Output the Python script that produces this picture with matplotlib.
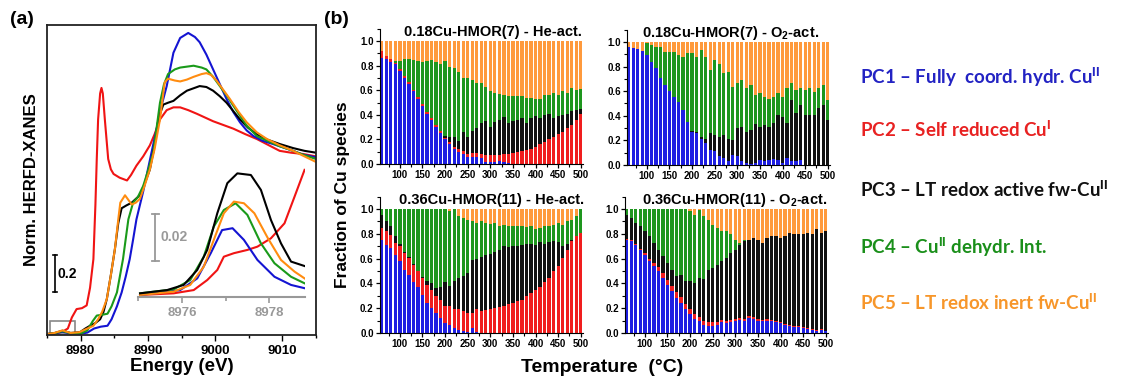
import numpy as np
import matplotlib
matplotlib.use("Agg")
import matplotlib.pyplot as plt
from matplotlib.patches import Rectangle
from matplotlib.ticker import MultipleLocator

plt.rcParams['font.family'] = ['Liberation Sans', 'DejaVu Sans']
plt.rcParams['font.weight'] = 'bold'
plt.rcParams['mathtext.fontset'] = 'custom'
plt.rcParams['mathtext.rm'] = 'Liberation Sans:bold'
plt.rcParams['mathtext.bf'] = 'Liberation Sans:bold'
plt.rcParams['mathtext.it'] = 'Liberation Sans:bold'

# ---------------- (a) HERFD-XANES spectra ----------------
blue_E = [8975.0, 8976.0, 8977.3, 8978.5, 8980.0, 8981.0, 8982.0, 8983.0, 8984.0, 8984.6, 8985.4,
          8986.1, 8986.7, 8987.3, 8987.8, 8988.3, 8989.3, 8990.3, 8991.3, 8992.0, 8992.8, 8993.8,
          8994.8, 8996.0, 8997.0, 8997.7, 8998.7, 8999.7, 9000.7, 9001.7, 9002.7, 9003.7, 9004.7,
          9005.7, 9007.0, 9008.6, 9010.0, 9011.6, 9013.0, 9015.0]
blue_I = [0.0, 0.003, 0.012, 0.004, 0.002, 0.008, 0.03, 0.04, 0.045, 0.08, 0.15,
          0.225, 0.31, 0.405, 0.51, 0.62, 0.77, 0.94, 1.11, 1.23, 1.34, 1.52,
          1.60, 1.627, 1.605, 1.577, 1.51, 1.43, 1.35, 1.27, 1.20, 1.144, 1.10,
          1.07, 1.045, 1.027, 1.01, 0.99, 0.97, 0.955]

green_E = [8975.0, 8976.0, 8977.3, 8978.5, 8980.0, 8981.0, 8981.8, 8982.4, 8983.3, 8984.0, 8984.6,
           8985.4, 8986.3, 8987.1, 8987.8, 8988.5, 8989.3, 8990.0, 8990.8, 8991.8, 8992.4, 8993.0,
           8994.0, 8994.8, 8996.8, 8998.0, 8998.7, 8999.7, 9000.7, 9001.7, 9002.7, 9004.7, 9006.2,
           9007.7, 9009.6, 9011.6, 9013.0, 9015.0]
green_I = [0.0, 0.004, 0.016, 0.005, 0.003, 0.02, 0.07, 0.10, 0.105, 0.11, 0.15,
           0.225, 0.405, 0.62, 0.71, 0.74, 0.80, 0.88, 0.98, 1.25, 1.35, 1.405,
           1.43, 1.44, 1.45, 1.44, 1.43, 1.39, 1.34, 1.29, 1.234, 1.126, 1.07,
           1.045, 1.015, 0.99, 0.97, 0.946]

orange_E = [8975.0, 8976.0, 8977.3, 8978.5, 8979.8, 8980.7, 8981.9, 8982.6, 8983.2, 8983.9, 8984.5,
            8985.1, 8985.6, 8985.9, 8986.6, 8987.0, 8987.6, 8988.2, 8988.8, 8989.5, 8990.3, 8991.0,
            8991.8, 8992.5, 8993.0, 8994.0, 8994.8, 8995.8, 8996.8, 8998.0, 8998.7, 8999.4, 9000.2,
            9001.2, 9002.2, 9003.5, 9004.7, 9006.2, 9007.7, 9009.6, 9011.6, 9013.0, 9015.0]
orange_I = [0.0, 0.005, 0.02, 0.006, 0.01, 0.025, 0.045, 0.08, 0.12, 0.19, 0.32,
            0.46, 0.62, 0.71, 0.75, 0.73, 0.70, 0.71, 0.73, 0.80, 0.89, 1.00,
            1.16, 1.36, 1.38, 1.37, 1.365, 1.375, 1.39, 1.405, 1.41, 1.40, 1.37,
            1.32, 1.27, 1.20, 1.144, 1.09, 1.054, 1.02, 0.99, 0.965, 0.93]

black_E = [8975.0, 8976.0, 8977.3, 8978.5, 8979.9, 8980.7, 8981.4, 8982.2, 8982.9, 8983.4, 8983.9,
           8984.5, 8985.1, 8985.6, 8986.1, 8986.8, 8987.6, 8988.2, 8988.8, 8989.5, 8990.3, 8991.0,
           8991.6, 8992.3, 8993.0, 8993.8, 8994.8, 8995.8, 8997.7, 8998.7, 8999.7, 9000.7, 9001.7,
           9002.7, 9003.7, 9004.9, 9006.2, 9007.8, 9009.6, 9011.6, 9013.3, 9015.0]
black_I = [0.0, 0.004, 0.018, 0.006, 0.01, 0.03, 0.045, 0.06, 0.08, 0.12, 0.19,
           0.32, 0.46, 0.60, 0.68, 0.695, 0.71, 0.73, 0.75, 0.81, 0.89, 1.02,
           1.17, 1.24, 1.25, 1.26, 1.29, 1.315, 1.34, 1.335, 1.315, 1.285, 1.25,
           1.205, 1.16, 1.115, 1.08, 1.05, 1.027, 1.005, 0.99, 0.98]

red_E = [8975.0, 8976.5, 8977.4, 8978.1, 8978.7, 8979.4, 8980.2, 8980.9, 8981.4, 8981.9, 8982.2,
         8982.4, 8982.6, 8982.9, 8983.1, 8983.3, 8983.6, 8984.1, 8984.5, 8984.9, 8985.8, 8986.9,
         8987.5, 8988.3, 8989.3, 8990.3, 8991.0, 8991.8, 8992.8, 8993.8, 8994.8, 8996.0, 8997.3,
         8998.5, 8999.7, 9001.2, 9002.7, 9004.5, 9006.2, 9008.0, 9009.6, 9011.3, 9013.1, 9015.0]
red_I = [0.0, 0.005, 0.015, 0.03, 0.09, 0.135, 0.14, 0.155, 0.25, 0.405, 0.70,
         0.946, 1.16, 1.30, 1.33, 1.30, 1.16, 0.946, 0.89, 0.865, 0.845, 0.83,
         0.86, 0.91, 0.96, 1.02, 1.08, 1.16, 1.21, 1.225, 1.225, 1.21, 1.19,
         1.17, 1.15, 1.13, 1.11, 1.08, 1.054, 1.02, 0.99, 0.98, 0.973, 0.96]

# inset: pre-edge region
in_black_E = [8975.04, 8975.66, 8976.04, 8976.35, 8976.58, 8976.81, 8977.04, 8977.27, 8977.58,
              8977.81, 8978.04, 8978.27, 8978.5, 8978.81]
in_black_I = [0.0017, 0.0031, 0.0053, 0.0117, 0.0203, 0.036, 0.0489, 0.0531, 0.0524,
              0.046, 0.0331, 0.0231, 0.0153, 0.0134]
in_orange_E = [8975.04, 8975.81, 8976.19, 8976.5, 8976.73, 8976.96, 8977.19, 8977.42, 8977.66,
               8977.97, 8978.27, 8978.58, 8978.81]
in_orange_I = [0.001, 0.0024, 0.0053, 0.0131, 0.0246, 0.036, 0.041, 0.0403, 0.036,
               0.0253, 0.016, 0.011, 0.0081]
in_green_E = [8975.04, 8975.81, 8976.19, 8976.5, 8976.73, 8976.96, 8977.23, 8977.5, 8977.81,
              8978.12, 8978.5, 8978.81]
in_green_I = [0.0017, 0.0034, 0.0074, 0.0174, 0.0303, 0.0374, 0.0403, 0.0353, 0.0231,
              0.0146, 0.0088, 0.006]
in_blue_E = [8975.04, 8975.96, 8976.35, 8976.66, 8976.92, 8977.16, 8977.42, 8977.73, 8978.12,
             8978.5, 8978.81]
in_blue_I = [0.001, 0.0031, 0.0081, 0.0189, 0.0288, 0.0296, 0.0246, 0.016, 0.0088,
             0.0053, 0.0039]
in_red_E = [8975.04, 8975.81, 8976.27, 8976.58, 8976.81, 8976.96, 8977.19, 8977.5, 8977.73,
            8978.04, 8978.35, 8978.58, 8978.81]
in_red_I = [0.001, 0.0017, 0.0031, 0.0074, 0.0117, 0.0174, 0.0189, 0.0203, 0.0217,
            0.0253, 0.0317, 0.0431, 0.0546]

# ---------------- (b) fractions (upper edge of each PC band) ----------------
temps = list(range(60, 501, 10))

he18_blue = [0.86, 0.85, 0.83, 0.81, 0.76, 0.70, 0.65, 0.59, 0.53, 0.47, 0.41, 0.355, 0.30, 0.25, 0.20,
             0.165, 0.12, 0.10, 0.085, 0.055, 0.06, 0.06, 0.045, 0.02, 0.02, 0.02, 0.025, 0.015, 0.005,
             0, 0, 0, 0, 0, 0, 0, 0, 0, 0, 0, 0, 0, 0, 0, 0]
he18_red = [0.92, 0.88, 0.85, 0.825, 0.775, 0.715, 0.665, 0.605, 0.545, 0.485, 0.425, 0.37, 0.315, 0.265,
            0.215, 0.18, 0.14, 0.12, 0.105, 0.08, 0.09, 0.09, 0.085, 0.07, 0.075, 0.07, 0.075, 0.08,
            0.085, 0.09, 0.10, 0.105, 0.11, 0.125, 0.14, 0.16, 0.18, 0.20, 0.22, 0.24, 0.26, 0.29,
            0.32, 0.36, 0.41]
he18_black = [0.92, 0.88, 0.85, 0.825, 0.775, 0.715, 0.665, 0.605, 0.545, 0.485, 0.425, 0.37, 0.315,
              0.265, 0.23, 0.22, 0.22, 0.19, 0.26, 0.22, 0.27, 0.29, 0.33, 0.35, 0.30, 0.34, 0.36,
              0.38, 0.33, 0.35, 0.36, 0.37, 0.33, 0.37, 0.39, 0.37, 0.40, 0.41, 0.37, 0.39, 0.40,
              0.41, 0.43, 0.44, 0.45]
he18_green = [0.92, 0.88, 0.85, 0.84, 0.84, 0.85, 0.85, 0.845, 0.84, 0.83, 0.84, 0.845, 0.83, 0.81,
              0.84, 0.79, 0.78, 0.75, 0.70, 0.70, 0.68, 0.655, 0.655, 0.63, 0.59, 0.58, 0.57, 0.56,
              0.55, 0.555, 0.55, 0.555, 0.535, 0.54, 0.525, 0.525, 0.56, 0.56, 0.575, 0.56, 0.59,
              0.575, 0.615, 0.60, 0.61]

o18_blue = [0.96, 0.95, 0.94, 0.93, 0.895, 0.84, 0.785, 0.705, 0.65, 0.60, 0.555, 0.515, 0.45, 0.35,
            0.27, 0.26, 0.215, 0.175, 0.12, 0.11, 0.07, 0.06, 0.03, 0.08, 0.07, 0.03, 0.015, 0.005,
            0.015, 0.04, 0.03, 0.04, 0.05, 0.04, 0.015, 0.06, 0.03, 0.035, 0.04, 0, 0, 0, 0, 0, 0]
o18_red = o18_blue
o18_black = [0.96, 0.95, 0.94, 0.93, 0.895, 0.84, 0.785, 0.705, 0.65, 0.60, 0.555, 0.515, 0.45, 0.35,
             0.28, 0.27, 0.23, 0.215, 0.26, 0.245, 0.23, 0.245, 0.215, 0.20, 0.30, 0.31, 0.27, 0.285,
             0.33, 0.31, 0.325, 0.31, 0.34, 0.405, 0.39, 0.34, 0.53, 0.42, 0.49, 0.405, 0.41, 0.405,
             0.46, 0.49, 0.365]
o18_green = [0.96, 0.95, 0.94, 0.93, 0.99, 0.975, 0.96, 0.96, 0.92, 0.92, 0.92, 0.895, 0.88, 0.91,
             0.91, 0.88, 0.935, 0.88, 0.77, 0.855, 0.825, 0.745, 0.76, 0.635, 0.665, 0.69, 0.625,
             0.65, 0.57, 0.585, 0.555, 0.54, 0.555, 0.585, 0.555, 0.625, 0.665, 0.61, 0.625, 0.61,
             0.625, 0.595, 0.625, 0.65, 0.53]

he36_blue = [0.75, 0.71, 0.685, 0.63, 0.58, 0.51, 0.47, 0.415, 0.375, 0.31, 0.24, 0.20, 0.16, 0.12,
             0.08, 0.067, 0.04, 0.027, 0.013, 0.01, 0.04, 0.005, 0, 0, 0, 0, 0, 0, 0, 0, 0, 0, 0, 0,
             0, 0, 0, 0, 0, 0, 0, 0, 0, 0, 0]
he36_red = [0.845, 0.82, 0.79, 0.725, 0.70, 0.645, 0.605, 0.55, 0.50, 0.445, 0.39, 0.35, 0.295, 0.27,
            0.215, 0.215, 0.195, 0.19, 0.175, 0.16, 0.16, 0.19, 0.175, 0.185, 0.195, 0.20, 0.21,
            0.215, 0.23, 0.24, 0.255, 0.27, 0.295, 0.32, 0.345, 0.375, 0.415, 0.445, 0.50, 0.54,
            0.605, 0.67, 0.74, 0.78, 0.805]
he36_black = [0.95, 0.90, 0.86, 0.78, 0.72, 0.655, 0.61, 0.555, 0.50, 0.45, 0.42, 0.40, 0.36, 0.37,
              0.41, 0.38, 0.42, 0.44, 0.46, 0.48, 0.59, 0.60, 0.61, 0.63, 0.64, 0.65, 0.67, 0.70,
              0.69, 0.70, 0.70, 0.71, 0.72, 0.72, 0.71, 0.73, 0.72, 0.73, 0.74, 0.73, 0.70, 0.72,
              0.75, 0.78, 0.805]
he36_green = [1.0, 1.0, 1.0, 1.0, 1.0, 1.0, 1.0, 1.0, 1.0, 1.0, 1.0, 1.0, 1.0, 1.0, 1.0, 0.985, 1.0,
              0.94, 0.925, 0.915, 0.90, 0.887, 0.90, 0.89, 0.88, 0.887, 0.86, 0.875, 0.86, 0.86,
              0.86, 0.865, 0.855, 0.86, 0.835, 0.85, 0.86, 0.865, 0.875, 0.887, 0.875, 0.90, 0.915,
              0.94, 1.0]

o36_blue = [0.75, 0.74, 0.71, 0.67, 0.63, 0.58, 0.54, 0.50, 0.445, 0.39, 0.335, 0.28, 0.24, 0.19,
            0.15, 0.11, 0.095, 0.067, 0.054, 0.06, 0.067, 0.086, 0.08, 0.086, 0.095, 0.108, 0.095,
            0.12, 0.113, 0.10, 0.095, 0.10, 0.095, 0.086, 0.08, 0.067, 0.06, 0.048, 0.048, 0.04,
            0.032, 0.027, 0.02, 0.027, 0.013]
o36_red = [0.76, 0.75, 0.72, 0.68, 0.645, 0.60, 0.565, 0.53, 0.48, 0.43, 0.38, 0.33, 0.29, 0.235,
           0.195, 0.155, 0.13, 0.10, 0.085, 0.085, 0.09, 0.105, 0.10, 0.105, 0.11, 0.125, 0.115,
           0.135, 0.13, 0.115, 0.105, 0.11, 0.105, 0.095, 0.09, 0.075, 0.068, 0.055, 0.055, 0.045,
           0.037, 0.032, 0.024, 0.03, 0.015]
o36_black = [0.955, 0.93, 0.89, 0.86, 0.82, 0.78, 0.725, 0.67, 0.62, 0.565, 0.51, 0.457, 0.47, 0.417,
             0.417, 0.40, 0.445, 0.435, 0.51, 0.525, 0.55, 0.58, 0.605, 0.645, 0.67, 0.71, 0.74,
             0.75, 0.765, 0.75, 0.725, 0.765, 0.78, 0.78, 0.765, 0.78, 0.805, 0.795, 0.795, 0.80,
             0.805, 0.795, 0.835, 0.81, 0.82]
o36_green = [1.0, 1.0, 1.0, 1.0, 1.0, 1.0, 1.0, 1.0, 1.0, 1.0, 1.0, 1.0, 1.0, 1.0, 0.98, 0.955, 0.995,
             0.94, 0.915, 0.875, 0.845, 0.82, 0.82, 0.795, 0.75, 0.725, 0.75, 0.75, 0.765, 0.75,
             0.725, 0.765, 0.78, 0.78, 0.765, 0.78, 0.805, 0.795, 0.795, 0.80, 0.805, 0.795, 0.835,
             0.81, 0.82]

legend_labels = [r"PC1 – Fully  coord. hydr. Cu$^{\mathrm{II}}$",
                 r"PC2 – Self reduced Cu$^{\mathrm{I}}$",
                 r"PC3 – LT redox active fw-Cu$^{\mathrm{II}}$",
                 r"PC4 – Cu$^{\mathrm{II}}$ dehydr. Int.",
                 r"PC5 – LT redox inert fw-Cu$^{\mathrm{II}}$"]

C_BLUE, C_RED, C_BLACK, C_GREEN, C_ORANGE = '#1e1ee2', '#f01e1e', '#111111', '#1e961e', '#ff9a3c'
L_BLUE, L_RED, L_GREEN, L_ORANGE = '#1414d2', '#f01414', '#1a9a1a', '#ff8c10'
T_COLORS = ['#2323c3', '#e82222', '#111111', '#1a8f1a', '#f7962a']

fig = plt.figure(figsize=(11.33, 3.81), dpi=100)

# ---------- panel (a) ----------
ax = fig.add_axes([47 / 1133, 1 - 335 / 381, 269 / 1133, 310 / 381])
for E, I, c in [(red_E, red_I, L_RED), (blue_E, blue_I, L_BLUE), (black_E, black_I, 'black'),
                (green_E, green_I, L_GREEN), (orange_E, orange_I, L_ORANGE)]:
    ax.plot(E, I, color=c, lw=1.5)
ax.set_xlim(8975, 9015)
ax.set_ylim(-0.005, 1.67)
ax.set_yticks([])
ax.xaxis.set_major_locator(MultipleLocator(10))
ax.xaxis.set_minor_locator(MultipleLocator(5))
ax.tick_params(axis='x', which='major', length=4, width=1, labelsize=9.5, pad=3)
ax.tick_params(axis='x', which='minor', length=2.5, width=1)
for s in ax.spines.values():
    s.set_linewidth(1.3)
    s.set_color('#222222')
ax.set_xlabel("Energy (eV)", fontsize=13.5, fontweight='bold', labelpad=1)
ax.set_ylabel("Norm. HERFD-XANES", fontsize=12, fontweight='bold', labelpad=6)
ax.add_patch(Rectangle((8975.4, 0.0), 3.8, 0.07, fill=False, edgecolor='#888888', lw=1.2))
# 0.2 scale bar
ax.plot([8976.2, 8976.2], [0.227, 0.427], color='black', lw=1.2)
ax.plot([8975.9, 8976.5], [0.227, 0.227], color='black', lw=1.2)
ax.plot([8975.9, 8976.5], [0.427, 0.427], color='black', lw=1.2)
ax.text(8976.5, 0.327, "0.2", fontsize=10, fontweight='bold', va='center', ha='left')

axi = fig.add_axes([138.3 / 1133, 1 - 297.3 / 381, 166.7 / 1133, 130.7 / 381])
axi.set_facecolor('none')
for E, I, c in [(in_red_E, in_red_I, L_RED), (in_blue_E, in_blue_I, L_BLUE),
                (in_green_E, in_green_I, L_GREEN), (in_orange_E, in_orange_I, L_ORANGE),
                (in_black_E, in_black_I, 'black')]:
    axi.plot(E, I, color=c, lw=1.5)
axi.set_xlim(8975, 8978.82)
axi.set_ylim(0, 0.056)
axi.set_yticks([])
for k in ['left', 'top', 'right']:
    axi.spines[k].set_visible(False)
axi.spines['bottom'].set_color('#999999')
axi.spines['bottom'].set_linewidth(1.5)
axi.xaxis.set_major_locator(MultipleLocator(2))
axi.xaxis.set_minor_locator(MultipleLocator(1))
axi.tick_params(axis='x', which='both', colors='#999999', labelcolor='#999999', labelsize=9.5, width=1.2)
axi.tick_params(axis='x', which='major', length=4, pad=3)
axi.tick_params(axis='x', which='minor', length=3)
axi.plot([8975.39, 8975.39], [0.0155, 0.0356], color='#999999', lw=1.3, clip_on=False)
axi.plot([8975.31, 8975.47], [0.0155, 0.0155], color='#999999', lw=1.3, clip_on=False)
axi.plot([8975.31, 8975.47], [0.0356, 0.0356], color='#999999', lw=1.3, clip_on=False)
axi.text(8975.5, 0.0258, "0.02", fontsize=10, color='#999999', fontweight='bold', va='center')

# ---------- panel (b) ----------
def draw_panel(rect, blue, red, black, green, title, tx):
    a = fig.add_axes(rect)
    tops = [np.array(blue), np.array(red), np.array(black), np.array(green), np.ones(len(temps))]
    colors = [C_BLUE, C_RED, C_BLACK, C_GREEN, C_ORANGE]
    prev = np.zeros(len(temps))
    for top, c in zip(tops, colors):
        h = np.clip(top - prev, 0, None)
        a.bar(temps, h, bottom=prev, width=7.2, color=c, linewidth=0)
        prev = np.maximum(prev, top)
    a.set_xlim(56, 505)
    a.set_ylim(0, 1.1)
    a.spines['top'].set_visible(False)
    a.spines['right'].set_visible(False)
    a.set_yticks([0, 0.2, 0.4, 0.6, 0.8, 1.0])
    a.set_yticklabels(["0.0", "0.2", "0.4", "0.6", "0.8", "1.0"])
    a.yaxis.set_minor_locator(MultipleLocator(0.1))
    a.set_xticks(range(100, 501, 50))
    a.xaxis.set_minor_locator(MultipleLocator(25))
    a.tick_params(which='major', length=3, width=0.9, labelsize=7, pad=1.5)
    a.tick_params(which='minor', length=2, width=0.8)
    a.text(tx, 0.975, title, transform=a.transAxes, ha='center', va='center',
           fontsize=10.5, fontweight='bold')
    return a

draw_panel([380 / 1133, 1 - 164 / 381, 203 / 1133, 135.3 / 381], he18_blue, he18_red, he18_black,
           he18_green, "0.18Cu-HMOR(7) - He-act.", 0.555)
draw_panel([627 / 1133, 1 - 165 / 381, 203 / 1133, 135.3 / 381], o18_blue, o18_red, o18_black,
           o18_green, r"0.18Cu-HMOR(7) - O$_2$-act.", 0.51)
draw_panel([380 / 1133, 1 - 333 / 381, 203 / 1133, 136.4 / 381], he36_blue, he36_red, he36_black,
           he36_green, "0.36Cu-HMOR(11) - He-act.", 0.55)
draw_panel([625 / 1133, 1 - 333 / 381, 203 / 1133, 136.4 / 381], o36_blue, o36_red, o36_black,
           o36_green, r"0.36Cu-HMOR(11) - O$_2$-act.", 0.54)

fig.text(343 / 1133, 1 - 195 / 381, "Fraction of Cu species", rotation=90, ha='center', va='center',
         fontsize=12.5, fontweight='bold')
fig.text(602 / 1133, 1 - 367 / 381, "Temperature  (°C)", ha='center', va='center',
         fontsize=14, fontweight='bold')

fig.text(10 / 1133, 1 - 20 / 381, "(a)", fontsize=14, fontweight='bold', va='center')
fig.text(324 / 1133, 1 - 20 / 381, "(b)", fontsize=14, fontweight='bold', va='center')

for lab, col, yy in zip(legend_labels, T_COLORS, [77, 130, 190, 247, 303]):
    fig.text(860 / 1133, 1 - yy / 381, lab, color=col, fontsize=13.5, fontweight='bold',
             family=['Lato', 'DejaVu Sans'], va='center', ha='left')

fig.savefig("out.png", dpi=100)
